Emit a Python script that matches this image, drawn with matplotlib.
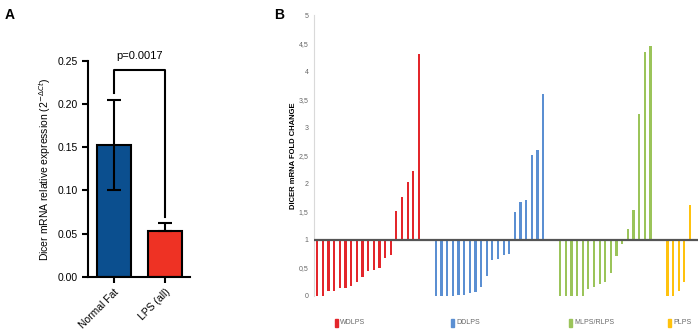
import matplotlib.pyplot as plt
from matplotlib.patches import Rectangle

plt.rcParams['font.family'] = ['Liberation Sans', 'DejaVu Sans']

# panel A data
groups_a = ['Normal Fat', 'LPS (all)']
means_a = [0.153, 0.053]
err_low_a = [0.053, 0.0]
err_high_a = [0.052, 0.009]
p_text = 'p=0.0017'

# panel B data (fold change, sorted per subtype)
wdlps = [0.0, 0.0, 0.09, 0.09, 0.14, 0.14, 0.18, 0.25, 0.33, 0.44, 0.46, 0.50, 0.67, 0.72,
         1.51, 1.76, 2.03, 2.23, 4.31]
ddlps = [0.0, 0.0, 0.0, 0.0, 0.01, 0.02, 0.04, 0.06, 0.15, 0.36, 0.64, 0.65, 0.73, 0.74,
         1.50, 1.68, 1.71, 2.51, 2.60, 3.59]
mlps = [0.0, 0.0, 0.0, 0.0, 0.0, 0.12, 0.16, 0.20, 0.25, 0.40, 0.70, 0.93,
        1.19, 1.53, 3.24, 4.35, 4.46]
plps = [0.0, 0.0, 0.09, 0.25, 1.61]
subtypes = ['WDLPS', 'DDLPS', 'MLPS/RLPS', 'PLPS']
b_colors = ['#E3262B', '#5B8FD2', '#9BC45A', '#FFC20E']


fig = plt.figure(figsize=(7, 3.34), dpi=100)

# ---------- panel A ----------
axa = fig.add_axes([0.1257, 0.1716, 0.1457, 0.6458])
xa = [0, 1]
axa.bar(xa, means_a, width=0.66, color=['#0B4F8F', '#EE3224'],
        edgecolor='black', linewidth=1.5, zorder=2)
axa.errorbar(xa, means_a, yerr=[err_low_a, err_high_a], fmt='none',
             ecolor='black', elinewidth=1.5, capsize=5, capthick=1.5, zorder=3)
axa.set_xlim(-0.504, 1.488)
axa.set_ylim(0, 0.25)
axa.set_yticks([0, 0.05, 0.10, 0.15, 0.20, 0.25])
axa.set_yticklabels(['0.00', '0.05', '0.10', '0.15', '0.20', '0.25'])
axa.set_xticks(xa)
axa.set_xticklabels(groups_a, rotation=45, ha='right', rotation_mode='anchor')
axa.tick_params(labelsize=7.5, width=1.5, length=4, colors='black')
for s in ['top', 'right']:
    axa.spines[s].set_visible(False)
for s in ['left', 'bottom']:
    axa.spines[s].set_linewidth(1.5)
axa.set_ylabel('Dicer mRNA relative expression (2$^{-\\Delta Ct}$)', fontsize=7.5, labelpad=3)

# significance bracket
axa.plot([0, 0, 1, 1], [0.2125, 0.240, 0.240, 0.0695], color='black', lw=1.5, clip_on=False)
axa.text(0.5, 0.2505, p_text, ha='center', va='bottom', fontsize=8, clip_on=False)

fig.text(0.007, 0.975, 'A', fontsize=10, fontweight='bold', va='top')
fig.text(0.392, 0.975, 'B', fontsize=10, fontweight='bold', va='top')

# ---------- panel B ----------
axb = fig.add_axes([0.4486, 0.1147, 0.5484, 0.8393])
series = [wdlps, ddlps, mlps, plps]
start = 0
for vals, col in zip(series, b_colors):
    xs = list(range(start, start + len(vals)))
    axb.bar(xs, [v - 1 for v in vals], bottom=1, width=0.4, color=col, zorder=2)
    start += len(vals) + 2
axb.axhline(1, color='#555555', lw=1.6, zorder=3)
axb.set_xlim(-0.58, 67.4)
axb.set_ylim(0, 5)
yt = [0, 0.5, 1, 1.5, 2, 2.5, 3, 3.5, 4, 4.5, 5]
axb.set_yticks(yt)
axb.set_yticklabels([('%g' % v).replace('.', ',') for v in yt])
axb.set_xticks([])
axb.tick_params(axis='y', length=0, labelsize=5, colors='#666666', pad=4)
for s in ['top', 'right', 'bottom']:
    axb.spines[s].set_visible(False)
axb.spines['left'].set_color('#D9D9D9')
axb.spines['left'].set_linewidth(0.8)
axb.set_ylabel('DICER mRNA FOLD CHANGE', fontsize=5.5, fontweight='bold', labelpad=1)

# legend
leg_x = [0.478, 0.644, 0.813, 0.954]
for lx, name, col in zip(leg_x, subtypes, b_colors):
    fig.add_artist(Rectangle((lx, 0.02), 0.0045, 0.025, color=col, transform=fig.transFigure))
    fig.text(lx + 0.008, 0.033, name, fontsize=5, color='#666666', va='center')

fig.savefig('out.png', dpi=100)
